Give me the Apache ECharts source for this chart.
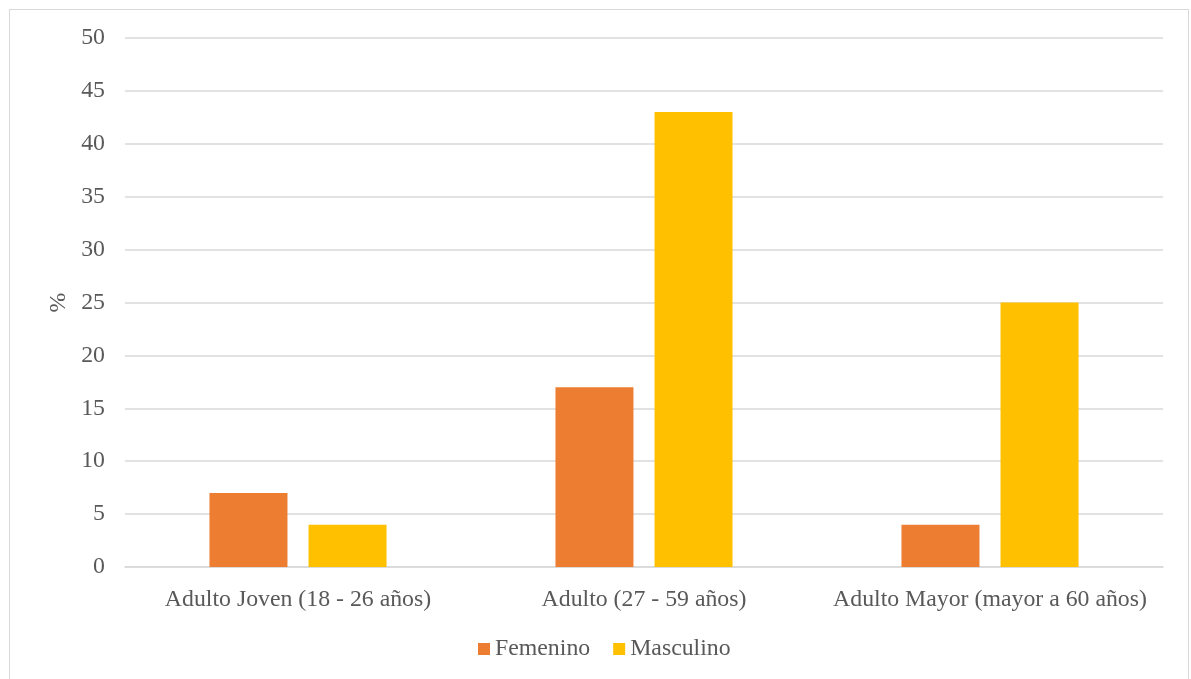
<!DOCTYPE html>
<html>
<head>
<meta charset="utf-8">
<script src="https://cdn.jsdelivr.net/npm/echarts@6/dist/echarts.min.js"></script>
<style>
  html, body { margin: 0; padding: 0; background: #fff; }
  #frame { position: absolute; left: 9px; top: 9px; width: 1180px; height: 690px; border: 1px solid #d9d9d9; box-sizing: border-box; }
  #chart { position: absolute; left: 0; top: 0; width: 1191px; height: 679px; }
</style>
</head>
<body>
<div id="frame"></div>
<div id="chart"></div>
<script>
// Age groups on the x axis
const categories = ['Adulto Joven (18 - 26 años)', 'Adulto (27 - 59 años)', 'Adulto Mayor (mayor a 60 años)'];
// Percentages by sex
const femenino = [7, 17, 4];
const masculino = [4, 43, 25];
const seriesNames = ['Femenino', 'Masculino'];

const textColor = '#595959';
const fontFamily = '"Liberation Serif", "Times New Roman", serif';
const fontSize = 23.8;

const chart = echarts.init(document.getElementById('chart'));
chart.setOption({
  animation: false,
  textStyle: { fontFamily: fontFamily },
  grid: { left: 125, right: 28, top: 38, bottom: 112, containLabel: false },
  legend: {
    data: seriesNames,
    bottom: 13,
    left: 473,
    itemWidth: 12,
    itemHeight: 12,
    itemGap: 23,
    icon: 'rect',
    textStyle: { color: textColor, fontSize: fontSize, fontFamily: fontFamily }
  },
  xAxis: {
    type: 'category',
    data: categories,
    axisLine: { show: true, lineStyle: { color: '#d9d9d9', width: 1.5 } },
    axisTick: { show: false },
    axisLabel: { interval: 0, color: textColor, fontSize: fontSize, fontFamily: fontFamily, margin: 21 }
  },
  yAxis: {
    type: 'value',
    min: 0,
    max: 50,
    interval: 5,
    name: '%',
    nameLocation: 'middle',
    nameGap: 49,
    nameRotate: 90,
    nameTextStyle: { color: textColor, fontSize: fontSize, fontFamily: fontFamily },
    axisLine: { show: false },
    axisTick: { show: false },
    axisLabel: { color: textColor, fontSize: fontSize, fontFamily: fontFamily, margin: 20, padding: [3, 0, 0, 0] },
    splitLine: { lineStyle: { color: '#d9d9d9', width: 1.5 } }
  },
  series: [
    {
      name: seriesNames[0],
      type: 'bar',
      data: femenino,
      barWidth: 78,
      barGap: '27%',
      itemStyle: { color: '#ED7D31' }
    },
    {
      name: seriesNames[1],
      type: 'bar',
      data: masculino,
      barWidth: 78,
      barGap: '27%',
      itemStyle: { color: '#FFC000' }
    }
  ]
});
</script>
</body>
</html>
